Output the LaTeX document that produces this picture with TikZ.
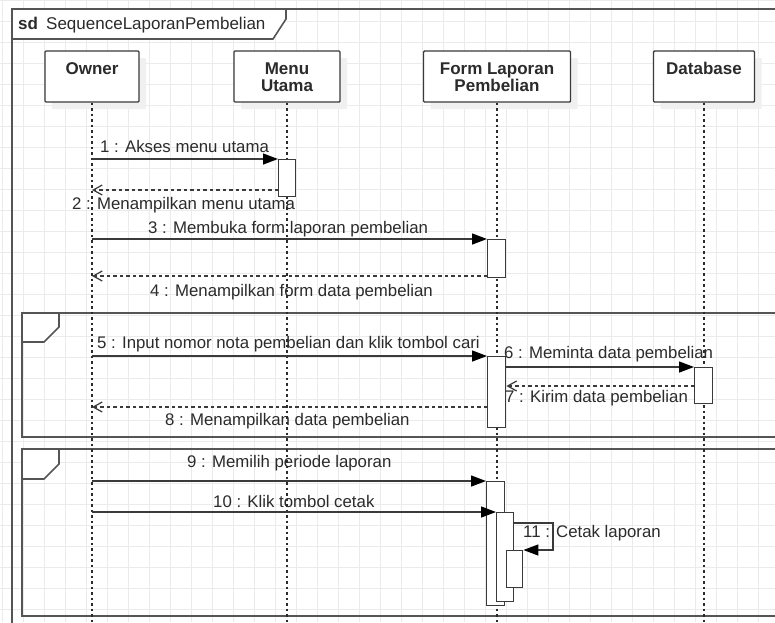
\documentclass[tikz,border=0pt]{standalone}
\usepackage{fontspec}
\setmainfont{Liberation Sans}
\usetikzlibrary{arrows.meta,shadows}
\definecolor{gridc}{HTML}{EBEBEB}
\definecolor{linec}{HTML}{3A3A3A}
\definecolor{framec}{HTML}{555555}
\definecolor{txtc}{HTML}{2B2B2B}
\begin{document}
\begin{tikzpicture}[x=1pt,y=-1pt,
  gridline/.style={gridc, line width=0.9pt},
  frameline/.style={framec, line width=1.6pt},
  actorbox/.style={draw=linec, fill=white, line width=1.4pt, rectangle, inner sep=0pt, rounded corners=1pt,
     drop shadow={shadow xshift=7pt, shadow yshift=-7pt, fill=black!6, opacity=1}},
  actortext/.style={font=\fontsize{17}{17}\selectfont\bfseries, text=txtc, inner sep=0pt, anchor=base},
  lifeline/.style={txtc, line width=1.7pt, dash pattern=on 2.5pt off 3pt},
  act/.style={draw=linec, fill=white, line width=1.4pt, rectangle, inner sep=0pt, anchor=north west},
  msg/.style={linec, line width=1.4pt, -{Triangle[length=15pt,width=11pt,color=black]}},
  ret/.style={linec, line width=1.2pt, dash pattern=on 3.5pt off 3pt, -{Straight Barb[length=9pt,width=10pt]}},
  lbl/.style={font=\fontsize{16.8}{17}\selectfont, text=txtc, inner sep=0pt, anchor=base west},
]
\useasboundingbox (0,0) rectangle (775,622);
\clip (0,0) rectangle (775,622);
\fill[white] (0,0) rectangle (775,622);
% grid
\foreach \i in {0,...,37} \draw[gridline] ({2+21*\i},0) -- ({2+21*\i},622);
\foreach \j in {0,...,29} \draw[gridline] (0,{21*\j}) -- (775,{21*\j});
% outer frame
\draw[frameline] (800,9) -- (12,9) -- (12,640);
\draw[frameline, fill=white] (12,9) -- (286,9) -- (286,19) -- (273,39) -- (12,39) -- cycle;
\node[font=\fontsize{17}{17}\selectfont\bfseries, text=txtc, inner sep=0pt, anchor=base west] (t1) at (18,29) {sd};
\node[font=\fontsize{17}{17}\selectfont, text=txtc, inner sep=0pt, anchor=base west] (t2) at (46,29) {SequenceLaporanPembelian};
% fragments
\draw[frameline] (22,313) rectangle (800,437);
\draw[frameline, fill=white] (22,313) -- (59,313) -- (59,327) -- (44,342) -- (22,342) -- cycle;
\draw[frameline] (22,449) rectangle (800,616);
\draw[frameline, fill=white] (22,449) -- (59,449) -- (59,464) -- (44,479) -- (22,479) -- cycle;
% actors
\node[actorbox, minimum width=94pt, minimum height=51pt] (owner) at (92,76.5) {};
\node[actorbox, minimum width=106pt, minimum height=51pt] (menu) at (287,76.5) {};
\node[actorbox, minimum width=147pt, minimum height=51pt] (form) at (497,76.5) {};
\node[actorbox, minimum width=101pt, minimum height=51pt] (db) at (704,76.5) {};
\node[actortext] (owtxt) at (92,74) {Owner};
\node[actortext] (mtxt1) at (287,74) {Menu};
\node[actortext] (mtxt2) at (287,91) {Utama};
\node[actortext] (ftxt1) at (497,74) {Form Laporan};
\node[actortext] (ftxt2) at (497,91) {Pembelian};
\node[actortext] (dtxt) at (704,74) {Database};
% lifelines
\coordinate (oEnd) at (92,630);
\coordinate (mEnd) at (287,630);
\coordinate (fEnd) at (497,630);
\coordinate (dEnd) at (704,630);
\draw[lifeline] (owner.south) -- (oEnd);
\draw[lifeline] (menu.south) -- (mEnd);
\draw[lifeline] (form.south) -- (fEnd);
\draw[lifeline] (db.south) -- (dEnd);
% activations
\node[act, minimum width=17pt, minimum height=37pt] (a1) at (278,159) {};
\node[act, minimum width=18pt, minimum height=38pt] (a2) at (487,239) {};
\node[act, minimum width=18pt, minimum height=71pt] (a3) at (487,356) {};
\node[act, minimum width=18pt, minimum height=36pt] (a4) at (694,367) {};
\node[act, minimum width=18pt, minimum height=124pt] (a5) at (486,481) {};
\node[act, minimum width=17pt, minimum height=89pt] (a6) at (496,512) {};
% messages
\coordinate (m1s) at (92,159);
\coordinate (m2e) at (92,190);
\coordinate (m3s) at (92,239);
\coordinate (m4e) at (92,276);
\coordinate (m5s) at (92,356);
\coordinate (m7y) at (600,386);
\coordinate (m8e) at (92,407);
\coordinate (m9s) at (92,481);
\coordinate (m10s) at (92,512);
\coordinate (m11c) at (553,523);
\coordinate (m11d) at (553,550);
\draw[msg] (m1s) -- (a1.north west);
\draw[ret] (a1.west |- m2e) -- (m2e);
\draw[msg] (m3s) -- (a2.north west);
\draw[ret] (a2.west |- m4e) -- (m4e);
\draw[msg] (m5s) -- (a3.north west);
\draw[msg] (a3.east |- a4.north west) -- (a4.north west);
\draw[ret] (a4.west |- m7y) -- (a3.east |- m7y);
\draw[ret] (a3.west |- m8e) -- (m8e);
\draw[msg] (m9s) -- (a5.north west);
\draw[msg] (m10s) -- (a6.north west);
\node[act, minimum width=16pt, minimum height=37pt] (a7) at (506,550) {};
\draw[msg] (a6.east |- m11c) -- (m11c) -- (m11d) -- (a7.north east);
% labels
\node[lbl] (l1) at (100,152) {1 : Akses menu utama};
\node[lbl] (l2) at (72,209) {2 : Menampilkan menu utama};
\node[lbl] (l3) at (148,233) {3 : Membuka form laporan pembelian};
\node[lbl] (l4) at (150,296) {4 : Menampilkan form data pembelian};
\node[lbl] (l5) at (97,348) {5 : Input nomor nota pembelian dan klik tombol cari};
\node[lbl] (l6) at (504,358) {6 : Meminta data pembelian};
\node[lbl] (l7) at (505,402) {7 : Kirim data pembelian};
\node[lbl] (l8) at (165,425) {8 : Menampilkan data pembelian};
\node[lbl] (l9) at (187,467) {9 : Memilih periode laporan};
\node[lbl] (l10) at (213,507) {10 : Klik tombol cetak};
\node[lbl] (l11) at (523,537) {11 : Cetak laporan};
\end{tikzpicture}
\end{document}
